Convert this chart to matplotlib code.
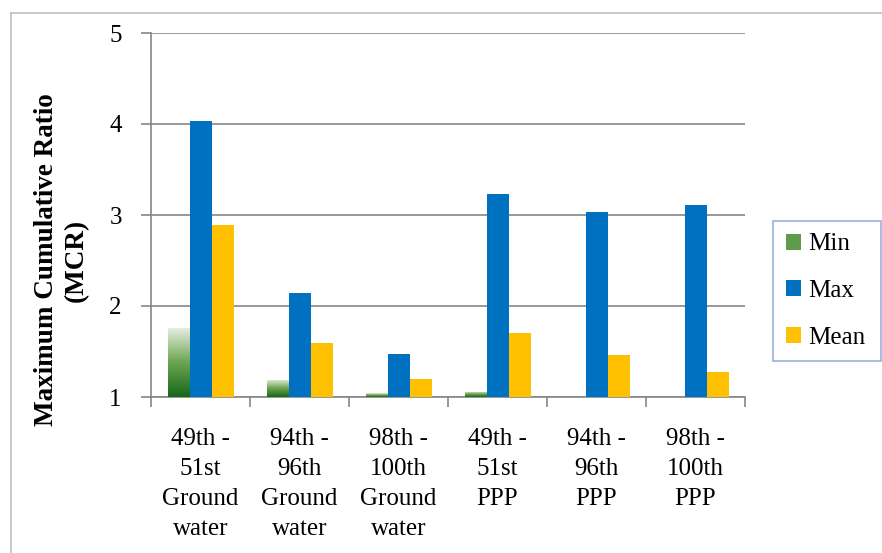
import numpy as np
import matplotlib
matplotlib.use("Agg")
import matplotlib.pyplot as plt
from matplotlib.colors import LinearSegmentedColormap
from matplotlib.lines import Line2D
from matplotlib.patches import Patch

categories = ["49th -\n51st\nGround\nwater", "94th -\n96th\nGround\nwater",
              "98th -\n100th\nGround\nwater", "49th -\n51st\nPPP",
              "94th -\n96th\nPPP", "98th -\n100th\nPPP"]
min_vals = [1.76, 1.19, 1.04, 1.06, 1.0, 1.0]
max_vals = [4.03, 2.14, 1.47, 3.23, 3.03, 3.11]
mean_vals = [2.89, 1.59, 1.20, 1.70, 1.46, 1.27]
y_ticks = [1, 2, 3, 4, 5]

plt.rcParams["font.family"] = ["Liberation Serif", "DejaVu Serif"]

fig = plt.figure(figsize=(8.82, 5.53), dpi=100)
ax = fig.add_axes([151 / 882, 1 - 397 / 553, 594 / 882, 364 / 553])

x = np.arange(len(categories))
w = 1 / 4.5
base = 1.0

min_bars = ax.bar(x - w, np.array(min_vals) - base, w, bottom=base,
                  facecolor="none", edgecolor="none", zorder=3)
ax.bar(x, np.array(max_vals) - base, w, bottom=base, color="#0070c0", zorder=3)
ax.bar(x + w, np.array(mean_vals) - base, w, bottom=base, color="#ffc000", zorder=3)

# vertical green gradient inside each Min bar
green = LinearSegmentedColormap.from_list("g", ["#17661a", "#6da552", "#e8f0e2"])
grad = np.linspace(0, 1, 256).reshape(-1, 1)
for p in min_bars:
    h = p.get_height()
    if h <= 0:
        continue
    im = ax.imshow(grad, cmap=green, aspect="auto", origin="lower",
                   extent=(p.get_x(), p.get_x() + p.get_width(),
                           p.get_y(), p.get_y() + h), zorder=3)
    im.set_clip_path(p)

ax.set_xlim(-0.5, len(categories) - 0.5)
ax.set_ylim(1, 5)
ax.set_yticks(y_ticks)
ax.set_yticklabels([str(t) for t in y_ticks], fontsize=18)
ax.set_xticks(np.arange(len(categories) + 1) - 0.5, minor=False)
ax.set_xticklabels([])
ax.set_xticks(x, minor=True)
ax.set_xticklabels(categories, minor=True, fontsize=18, linespacing=1.48)
ax.tick_params(axis="x", which="minor", length=0, pad=22)
ax.tick_params(axis="x", which="major", length=7, color="#868686", width=1.2)
ax.tick_params(axis="y", length=7, color="#868686", width=1.2, pad=14)

ax.grid(axis="y", color="#868686", linewidth=1.2, zorder=0)
ax.set_axisbelow(True)
for s in ["top", "right"]:
    ax.spines[s].set_visible(False)
for s in ["left", "bottom"]:
    ax.spines[s].set_color("#868686")
    ax.spines[s].set_linewidth(1.2)

fig.text(61 / 882, 1 - 260 / 553, "Maximum Cumulative Ratio\n(MCR)",
         rotation=90, ha="center", va="center", fontsize=19.5,
         fontweight="bold", linespacing=1.25)

handles = [Patch(facecolor="#5f9b4a", edgecolor="none"),
           Patch(facecolor="#0070c0", edgecolor="none"),
           Patch(facecolor="#ffc000", edgecolor="none")]
leg = fig.legend(handles, ["Min", "Max", "Mean"],
                 loc="upper left",
                 bbox_to_anchor=(773 / 882, 1 - 351 / 553, 108 / 882, 130 / 553),
                 mode="expand", fontsize=18, frameon=True, fancybox=False,
                 handlelength=0.6, handleheight=0.6, handletextpad=0.3,
                 labelspacing=0.98, borderaxespad=0, borderpad=0.5)
leg.get_frame().set_edgecolor("#7f9fd4")
leg.get_frame().set_linewidth(1.2)

# outer chart border
fig.add_artist(Line2D([10.5 / 882, 10.5 / 882], [0, 1 - 13 / 553],
                      transform=fig.transFigure, color="#bfbfbf", lw=1.2))
fig.add_artist(Line2D([10.5 / 882, 1], [1 - 13 / 553, 1 - 13 / 553],
                      transform=fig.transFigure, color="#bfbfbf", lw=1.2))

fig.savefig("out.png", dpi=100)
